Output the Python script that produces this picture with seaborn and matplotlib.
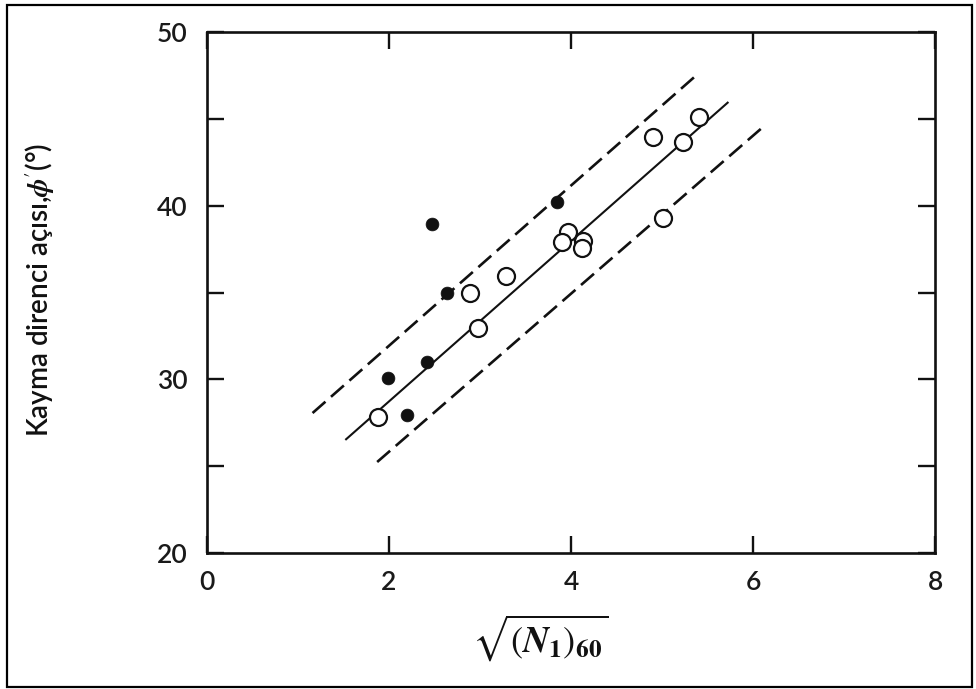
import matplotlib
matplotlib.use("Agg")
import matplotlib.pyplot as plt
import seaborn as sns
import pandas as pd
from matplotlib.patches import Rectangle

# Measured friction angle against normalised SPT blow count
filled_x = [2.47, 3.85, 2.64, 2.42, 1.99, 2.20]
filled_y = [38.94, 40.21, 34.97, 31.00, 30.08, 27.95]

open_x = [1.88, 2.89, 2.98, 3.29, 3.97, 3.90, 4.13, 4.12, 4.90, 5.23, 5.41, 5.01]
open_y = [27.83, 34.97, 32.96, 35.95, 38.48, 37.91, 37.97, 37.56, 43.95, 43.67, 45.10, 39.29]

# Mean trend and its bounding band
fit_x = [1.52, 5.73]
fit_y = [26.51, 45.97]
upper_x = [1.16, 5.38]
upper_y = [28.06, 47.52]
lower_x = [1.87, 6.11]
lower_y = [25.24, 44.53]

x_ticks = [0, 2, 4, 6, 8]
y_ticks = [20, 30, 40, 50]
y_minor = [25, 35, 45]

sns.set_theme(style="white")
plt.rcParams["font.family"] = ["Lato", "DejaVu Sans"]
plt.rcParams["mathtext.fontset"] = "stix"

fig = plt.figure(figsize=(9.76, 6.89), dpi=100)
ax = fig.add_axes([207 / 976, 1 - 553 / 689, 728 / 976, 521 / 689])

df_filled = pd.DataFrame({"x": filled_x, "y": filled_y})
df_open = pd.DataFrame({"x": open_x, "y": open_y})

ink = "#111111"
ax.plot(fit_x, fit_y, color=ink, lw=1.5, solid_capstyle="butt", zorder=2)
ax.plot(upper_x, upper_y, color=ink, lw=1.9, linestyle=(0, (6.5, 2.8)), zorder=2)
ax.plot(lower_x, lower_y, color=ink, lw=1.9, linestyle=(0, (6.5, 2.8)), zorder=2)

sns.scatterplot(data=df_open, x="x", y="y", ax=ax, s=150, marker="o",
                facecolor="white", edgecolor=ink, linewidth=1.6, zorder=3)
sns.scatterplot(data=df_filled, x="x", y="y", ax=ax, s=85, marker="o",
                color=ink, edgecolor=ink, linewidth=0.5, zorder=4)

ax.set_xlim(0, 8)
ax.set_ylim(20, 50)
ax.set_xticks(x_ticks)
ax.set_yticks(y_ticks)
ax.set_yticks(y_minor, minor=True)
ax.tick_params(which="both", direction="in", length=12, width=1.7, color=ink,
               top=True, right=True, bottom=True, left=True,
               labelsize=19, labelcolor="#1a1a1a")
ax.tick_params(axis="y", which="major", pad=14)
ax.tick_params(axis="x", which="major", pad=12)
for lab in ax.get_xticklabels() + ax.get_yticklabels():
    lab.set_fontweight("semibold")

for sp in ax.spines.values():
    sp.set_visible(True)
    sp.set_color(ink)
    sp.set_linewidth(1.9)

ax.set_xlabel(r"$\sqrt{(\mathbfit{N}_\mathbf{1})_{\mathbf{60}}}$", fontsize=26, color=ink)
ax.set_ylabel(r"Kayma direnci açısı,$\mathbfit{\phi}'$(°)", fontsize=20,
              color=ink, fontweight="semibold")
ax.xaxis.set_label_coords((540 - 207) / 728, (553 - 612) / 521)
ax.yaxis.set_label_coords((56 - 207) / 728, (553 - 290) / 521)

fig.patches.append(Rectangle((6.5 / 976, 1 - 687 / 689), 965 / 976, 682 / 689,
                             transform=fig.transFigure, fill=False,
                             edgecolor="black", linewidth=1.6))

fig.savefig("out.png", dpi=100)
